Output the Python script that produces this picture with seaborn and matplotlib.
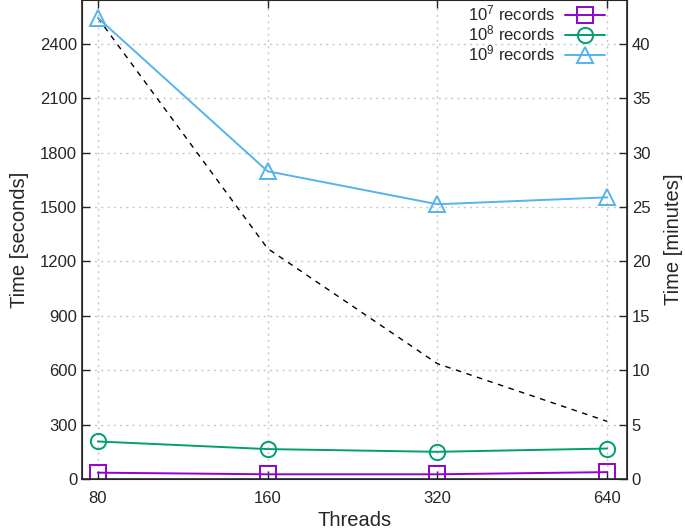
import pandas as pd
import matplotlib
matplotlib.use("Agg")
import matplotlib.pyplot as plt
import seaborn as sns

# veri
threads = [80, 160, 320, 640]
rec7 = [35, 26, 26, 38]
rec8 = [207, 165, 150, 168]
rec9 = [2543, 1697, 1515, 1553]
ideal = [2543, 1271, 636, 318]
labels = ["$10^{7}$ records", "$10^{8}$ records", "$10^{9}$ records"]
renkler = ["#9400D3", "#009E73", "#56B4E9"]
markerler = ["s", "o", "^"]

sns.set_style("ticks")
plt.rcParams["font.family"] = ["Liberation Sans", "DejaVu Sans"]
plt.rcParams["mathtext.fontset"] = "custom"
plt.rcParams["mathtext.rm"] = "Liberation Sans"
plt.rcParams["mathtext.it"] = "Liberation Sans"

fig = plt.figure(figsize=(6.85, 5.32), dpi=100)
ax = fig.add_axes([0.1197, 0.0996, 0.7956, 0.9])

# ideal olceklenme (kesikli)
df_ideal = pd.DataFrame({"Threads": threads, "Time": ideal})
sns.lineplot(data=df_ideal, x="Threads", y="Time", ax=ax, color="black",
             linestyle=(0, (4, 4)), linewidth=1.0)

for seri, lab, renk, mk in zip([rec7, rec8, rec9], labels, renkler, markerler):
    df = pd.DataFrame({"Threads": threads, "Time": seri})
    sns.lineplot(data=df, x="Threads", y="Time", ax=ax, color=renk, label=lab,
                 marker=mk, markersize=11, markerfacecolor="none",
                 markeredgecolor=renk, markeredgewidth=1.4, linewidth=1.4)

ax.set_xscale("log", base=2)
ax.set_xlim(75, 694)
ax.set_xticks(threads)
ax.set_xticklabels([str(t) for t in threads])
ax.minorticks_off()
ax.set_ylim(0, 2640)
ax.set_yticks(range(0, 2401, 300))
ax.grid(True, color="#c8c8c8", linestyle=(0, (1.5, 3)), linewidth=1.0)
ax.tick_params(axis="both", direction="in", labelsize=12, length=6,
               top=True, width=1)
ax.tick_params(axis="x", pad=8.5)
ax.set_xlabel("Threads", fontsize=14.5)
ax.set_ylabel("Time [seconds]", fontsize=14.5, labelpad=8)
for s in ax.spines.values():
    s.set_linewidth(1.2)

ax2 = ax.twinx()
ax2.set_ylim(0, 44)
ax2.set_yticks(range(0, 41, 5))
ax2.tick_params(axis="y", direction="in", labelsize=12, length=6, width=1)
ax2.set_ylabel("Time [minutes]", fontsize=14.5, labelpad=10)

ax.legend(loc="upper right", frameon=False, markerfirst=False, fontsize=12,
          handlelength=2.4, labelspacing=0.0, borderaxespad=0.1,
          handletextpad=0.6, bbox_to_anchor=(0.975, 1.01))

plt.savefig("out.png", dpi=100)
